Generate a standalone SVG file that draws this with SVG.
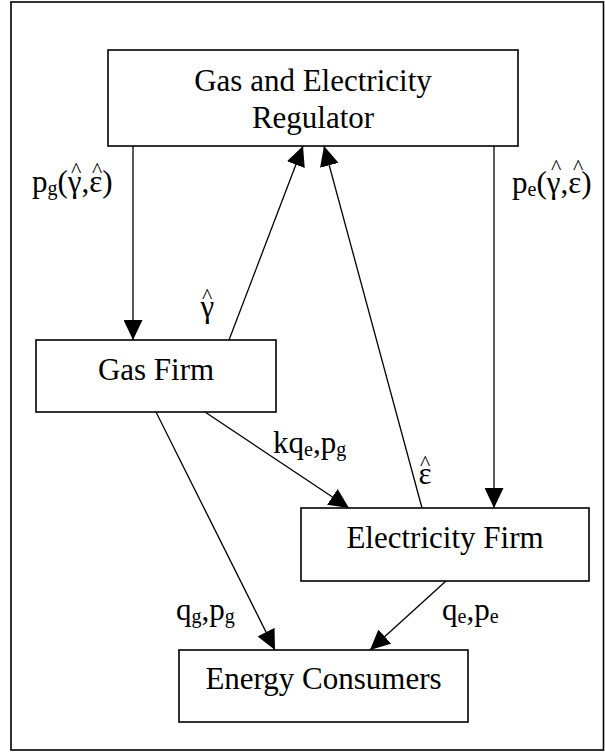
<svg xmlns="http://www.w3.org/2000/svg" width="605" height="753" viewBox="0 0 605 753">
<style>
  .box{fill:#fff;stroke:#000;stroke-width:1.6}
  .frame{fill:#fff;stroke:#000;stroke-width:1.6}
  .t{font-family:"Liberation Serif","Times New Roman",serif;font-size:31px;fill:#000}
  .c{text-anchor:middle}
  .sub{font-size:20px}
  .hat{font-size:22px}
  .edge{stroke:#000;stroke-width:1.3;fill:none;marker-end:url(#ah)}
</style>
<defs>
  <marker id="ah" markerUnits="userSpaceOnUse" markerWidth="20" markerHeight="19" refX="20" refY="9.5" orient="auto">
    <path d="M0,0 L20,9.5 L0,19 z" fill="#000"/>
  </marker>
</defs>
<rect class="frame" x="11" y="2" width="592.5" height="748"/>
<g id="connectors">
  <path class="edge" d="M133,146 L133,340"/>
  <path class="edge" d="M229,340 L303,146"/>
  <path class="edge" d="M422,508 L324,146"/>
  <path class="edge" d="M494,146 L494,508"/>
  <path class="edge" d="M205,412 L349,508"/>
  <path class="edge" d="M156,412 L275,650"/>
  <path class="edge" d="M446,581 L370,650"/>
</g>
<g id="regulator">
  <rect class="box" x="108" y="50" width="410" height="96"/>
  <text class="t c" x="313" y="91">Gas and Electricity</text>
  <text class="t c" x="313" y="128">Regulator</text>
</g>
<g id="gas-firm">
  <rect class="box" x="36" y="340" width="240" height="72"/>
  <text class="t c" x="156" y="380">Gas Firm</text>
</g>
<g id="electricity-firm">
  <rect class="box" x="301" y="508" width="288" height="73"/>
  <text class="t c" x="445" y="548">Electricity Firm</text>
</g>
<g id="energy-consumers">
  <rect class="box" x="179" y="650" width="289" height="72"/>
  <text class="t c" x="323.5" y="689">Energy Consumers</text>
</g>
<g id="labels">
  <text class="t" x="32" y="192">p<tspan class="sub" dy="3">g</tspan><tspan dy="-3">(γ,ε)</tspan><tspan class="hat" x="71" y="177">^</tspan><tspan class="hat" x="92" y="177">^</tspan></text>
  <text class="t" x="512" y="193">p<tspan class="sub" dy="3">e</tspan><tspan dy="-3">(γ,ε)</tspan><tspan class="hat" x="551" y="174">^</tspan><tspan class="hat" x="573" y="174">^</tspan></text>
  <text class="t" x="200.5" y="317">γ<tspan class="hat" x="202" y="303">^</tspan></text>
  <text class="t" x="418.5" y="484">ε<tspan class="hat" x="420" y="470">^</tspan></text>
  <text class="t" x="273" y="453">kq<tspan class="sub" dy="3">e</tspan><tspan dy="-3">,p</tspan><tspan class="sub" dy="3">g</tspan></text>
  <text class="t" x="176" y="620">q<tspan class="sub" dy="3">g</tspan><tspan dy="-3">,p</tspan><tspan class="sub" dy="3">g</tspan></text>
  <text class="t" x="442" y="620">q<tspan class="sub" dy="3">e</tspan><tspan dy="-3">,p</tspan><tspan class="sub" dy="3">e</tspan></text>
</g>
</svg>
